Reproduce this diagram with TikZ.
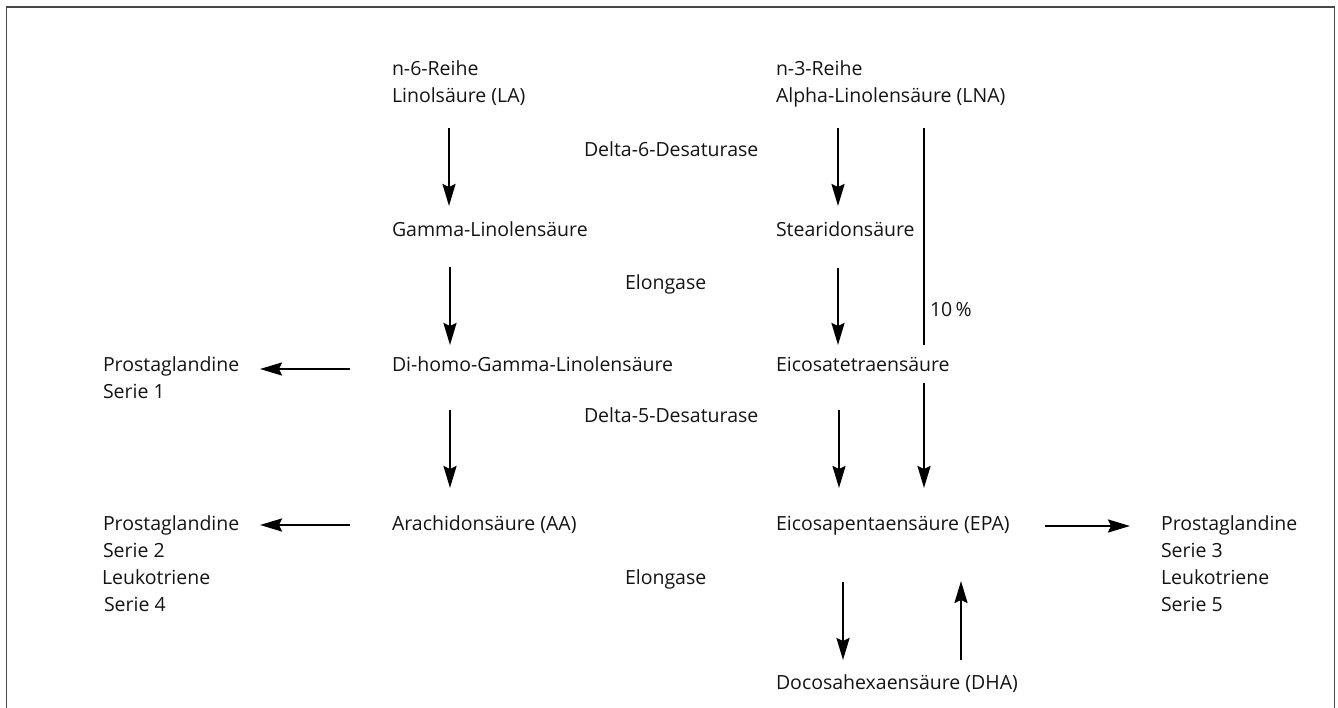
\documentclass[tikz,border=0pt]{standalone}
\usepackage{fontspec}
\setmainfont{Open Sans}
\usetikzlibrary{arrows.meta}
\tikzset{
  lbl/.style={anchor=base west, inner sep=0pt, outer sep=0pt, text=black!92, font=\fontsize{19.5}{27}\selectfont},
  arr/.style={line width=2.4pt, -{Stealth[length=22pt,width=13pt,inset=3pt]}},
  plainline/.style={line width=2.4pt},
  frame/.style={draw=black!72, line width=1.3pt}
}
\begin{document}
\begin{tikzpicture}[x=1pt,y=-1pt]
\useasboundingbox (0,0) rectangle (1338,708);
\draw[frame] (6.5,720) -- (6.5,7) -- (1334.5,7) -- (1334.5,720);

% left column (n-6)
\node[lbl] (n6a) at (392,76) {n-6-Reihe};
\node[lbl] (n6b) at (392,103) {Linolsäure (LA)};
\node[lbl] (gla) at (392,237) {Gamma-Linolensäure};
\node[lbl] (dgla) at (392,371) {Di-homo-Gamma-Linolensäure};
\node[lbl] (aa) at (392,530) {Arachidonsäure (AA)};

% right column (n-3)
\node[lbl] (n3a) at (776,76) {n-3-Reihe};
\node[lbl] (n3b) at (776,103) {Alpha-Linolensäure (LNA)};
\node[lbl] (sda) at (776,237) {Stearidonsäure};
\node[lbl] (eta) at (776,371) {Eicosatetraensäure};
\node[lbl] (epa) at (776,530) {Eicosapentaensäure (EPA)};
\node[lbl] (dha) at (776,689) {Docosahexaensäure (DHA)};

% enzymes
\node[lbl] (d6) at (584,157) {Delta-6-Desaturase};
\node[lbl] (el1) at (625,290) {Elongase};
\node[lbl] (d5) at (584,422) {Delta-5-Desaturase};
\node[lbl] (el2) at (625,584) {Elongase};
\node[lbl] (pct) at (930,317) {10\,\%};

% products left
\node[lbl] (pg1a) at (103,371) {Prostaglandine};
\node[lbl] (pg1b) at (103,398) {Serie 1};
\node[lbl] (pg2a) at (103,530) {Prostaglandine};
\node[lbl] (pg2b) at (103,557) {Serie 2};
\node[lbl] (lt4a) at (102,584) {Leukotriene};
\node[lbl] (lt4b) at (104,611) {Serie 4};

% products right
\node[lbl] (pg3a) at (1161,530) {Prostaglandine};
\node[lbl] (pg3b) at (1161,557) {Serie 3};
\node[lbl] (lt5a) at (1161,584) {Leukotriene};
\node[lbl] (lt5b) at (1161,611) {Serie 5};

% connector end points
\coordinate (a1s) at (449,128); \coordinate (a1e) at (449,206);
\coordinate (b1s) at (838,128); \coordinate (b1e) at (838,206);
\coordinate (a2s) at (450,267); \coordinate (a2e) at (450,345);
\coordinate (b2s) at (838,268); \coordinate (b2e) at (838,345);
\coordinate (ls) at (924,128);  \coordinate (le) at (924,345);
\coordinate (a3s) at (450,410); \coordinate (a3e) at (450,488);
\coordinate (b3s) at (839,410); \coordinate (b3e) at (839,488);
\coordinate (c3s) at (924,383); \coordinate (c3e) at (924,488);
\coordinate (p1s) at (350,369); \coordinate (p1e) at (260,369);
\coordinate (p2s) at (350,525); \coordinate (p2e) at (260,525);
\coordinate (p3s) at (1045,526); \coordinate (p3e) at (1130,526);
\coordinate (d1s) at (843,582); \coordinate (d1e) at (843,660);
\coordinate (u1s) at (961,660); \coordinate (u1e) at (961,581);

\draw[arr] (a1s) -- (a1e);
\draw[arr] (b1s) -- (b1e);
\draw[arr] (a2s) -- (a2e);
\draw[arr] (b2s) -- (b2e);
\draw[plainline] (ls) -- (le);
\draw[arr] (a3s) -- (a3e);
\draw[arr] (b3s) -- (b3e);
\draw[arr] (c3s) -- (c3e);
\draw[arr] (p1s) -- (p1e);
\draw[arr] (p2s) -- (p2e);
\draw[arr] (p3s) -- (p3e);
\draw[arr] (d1s) -- (d1e);
\draw[arr] (u1s) -- (u1e);
\end{tikzpicture}
\end{document}
